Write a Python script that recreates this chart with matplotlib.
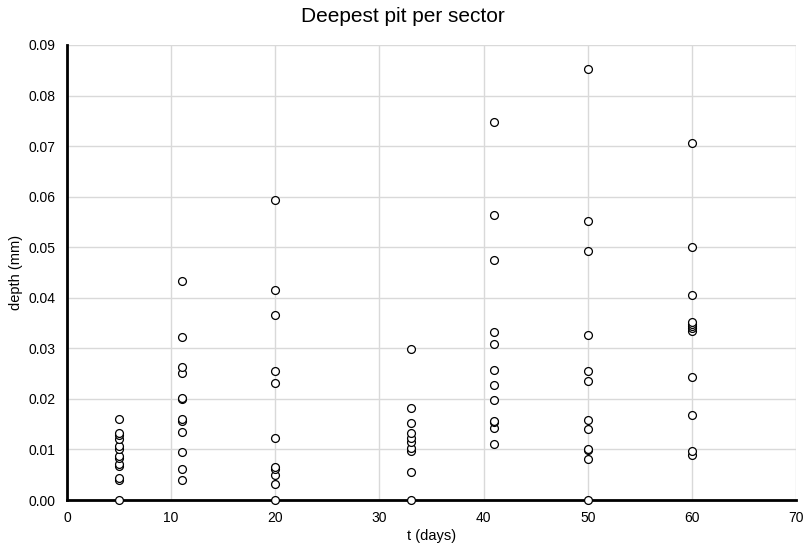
import matplotlib.pyplot as plt

plt.rcParams['font.family'] = ['Liberation Sans', 'DejaVu Sans']

# immersion time (days) for each group of sectors
days = [5, 11, 20, 33, 41, 50, 60]

# deepest pit measured in each sector (mm)
depth_5 = [0.0, 0.0040, 0.0044, 0.0067, 0.0071, 0.0084, 0.0088, 0.0101, 0.0107,
           0.0120, 0.0128, 0.0133, 0.0160]
depth_11 = [0.0040, 0.0061, 0.0095, 0.0134, 0.0156, 0.0160, 0.0199, 0.0202,
            0.0252, 0.0264, 0.0323, 0.0433]
depth_20 = [0.0, 0.0032, 0.0050, 0.0062, 0.0066, 0.0123, 0.0231, 0.0256,
            0.0366, 0.0415, 0.0593]
depth_33 = [0.0, 0.0056, 0.0097, 0.0103, 0.0114, 0.0123, 0.0132, 0.0152,
            0.0181, 0.0299]
depth_41 = [0.0110, 0.0143, 0.0154, 0.0157, 0.0198, 0.0227, 0.0258, 0.0309,
            0.0333, 0.0474, 0.0564, 0.0747]
depth_50 = [0.0, 0.0082, 0.0098, 0.0100, 0.0140, 0.0158, 0.0235, 0.0255,
            0.0327, 0.0492, 0.0551, 0.0852]
depth_60 = [0.0090, 0.0097, 0.0168, 0.0243, 0.0334, 0.0340, 0.0345, 0.0349,
            0.0353, 0.0405, 0.0501, 0.0706]

groups = [depth_5, depth_11, depth_20, depth_33, depth_41, depth_50, depth_60]

fig = plt.figure(figsize=(8.06, 5.52), dpi=100)
ax = fig.add_axes([0.0831, 0.0942, 0.9045, 0.8243])

for t, d in zip(days, groups):
    ax.scatter([t] * len(d), d, s=32, facecolors='white', edgecolors='black',
               linewidths=0.9, zorder=3, clip_on=False)

ax.set_xlim(0, 70)
ax.set_ylim(0, 0.09)
ax.set_xticks(range(0, 71, 10))
ax.set_yticks([i / 100 for i in range(10)])
ax.set_yticklabels([f'{i / 100:.2f}' for i in range(10)])

ax.grid(True, color='#d9d9d9', linewidth=1.0, zorder=0)
ax.set_axisbelow(True)
for side in ['top', 'right']:
    ax.spines[side].set_visible(False)
for side in ['left', 'bottom']:
    ax.spines[side].set_linewidth(2.0)
    ax.spines[side].set_color('black')
ax.tick_params(axis='y', length=0, labelsize=10, pad=8)
ax.tick_params(axis='x', length=0, labelsize=10, pad=8)

ax.set_xlabel('t (days)', fontsize=10.5, labelpad=3)
ax.set_ylabel('depth (mm)', fontsize=10.5, labelpad=4)
fig.suptitle('Deepest pit per sector', fontsize=15, y=0.988)

fig.savefig('out.png', dpi=100)
